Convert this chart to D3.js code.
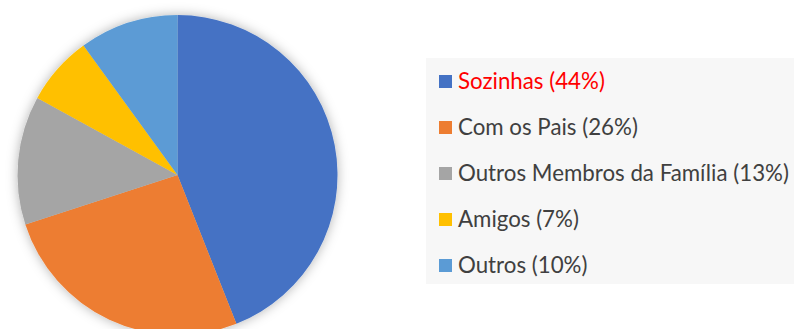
<!DOCTYPE html>
<html>
<head>
<meta charset="utf-8">
<script src="https://cdn.jsdelivr.net/npm/d3@7/dist/d3.min.js"></script>
<style>
  html, body { margin: 0; padding: 0; background: #ffffff; }
  svg { display: block; }
</style>
</head>
<body>
<svg id="chart" width="794" height="329"></svg>
<script>
// Com quem vivem
const categories = ["Sozinhas", "Com os Pais", "Outros Membros da Família", "Amigos", "Outros"];
const values = [44, 26, 13, 7, 10];
const colors = ["#4472C4", "#ED7D31", "#A5A5A5", "#FFC000", "#5B9BD5"];
const labelColors = ["#FF0000", "#404040", "#404040", "#404040", "#404040"];

const svg = d3.select("#chart");

// soft shadow around the pie
const defs = svg.append("defs");
const f = defs.append("filter").attr("id", "pieShadow")
  .attr("x", "-20%").attr("y", "-20%").attr("width", "140%").attr("height", "140%");
f.append("feDropShadow").attr("dx", 0).attr("dy", 0)
  .attr("stdDeviation", 6).attr("flood-color", "#000").attr("flood-opacity", 0.3);

const cx = 177.5, cy = 175, r = 160;
const pie = d3.pie().sort(null).value(d => d.v);
const arc = d3.arc().innerRadius(0).outerRadius(r);
const data = categories.map((c, i) => ({ c, v: values[i], col: colors[i] }));

const g = svg.append("g").attr("transform", `translate(${cx},${cy})`)
  .attr("filter", "url(#pieShadow)");
g.selectAll("path").data(pie(data)).join("path")
  .attr("d", arc)
  .attr("fill", d => d.data.col);

// legend
const lx = 426, ly = 58, lw = 368, lh = 226;
const legend = svg.append("g");
legend.append("rect").attr("x", lx).attr("y", ly).attr("width", lw).attr("height", lh)
  .attr("fill", "#f7f7f7");

const rowY = d3.scalePoint().domain(categories).range([89, 273]);
const rows = legend.selectAll("g.row").data(data).join("g").attr("class", "row")
  .attr("transform", d => `translate(0,${rowY(d.c)})`);
rows.append("rect").attr("x", 439).attr("y", -14).attr("width", 13).attr("height", 13)
  .attr("fill", d => d.col);
rows.append("text").attr("x", 458).attr("y", 0)
  .attr("font-family", "Lato, 'Open Sans', sans-serif")
  .attr("font-size", 22.3)
  .attr("fill", (d, i) => labelColors[i])
  .text(d => `${d.c} (${d.v}%)`);
</script>
</body>
</html>
